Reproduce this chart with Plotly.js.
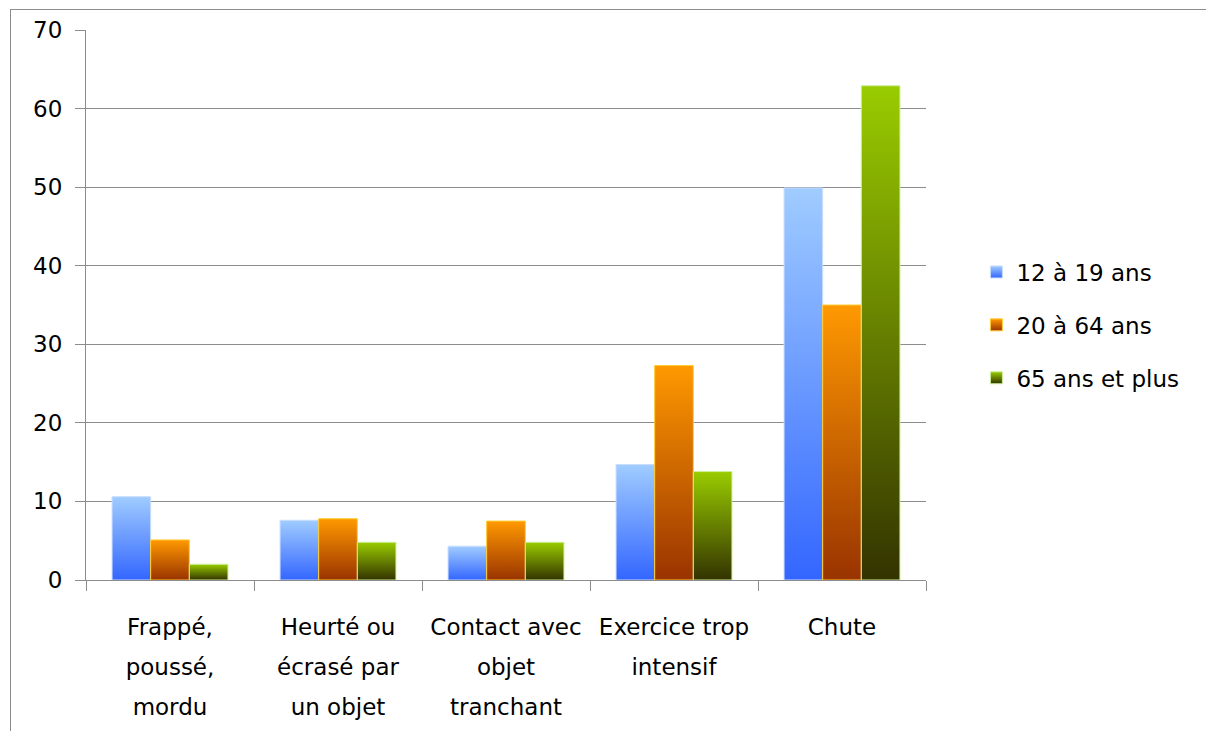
<!DOCTYPE html>
<html>
<head>
<meta charset="utf-8">
<script src="https://cdn.plot.ly/plotly-3.0.1.min.js"></script>
<style>
html,body{margin:0;padding:0;background:#fff;}
#wrap{position:relative;width:1206px;height:731px;overflow:hidden;}
#frame{position:absolute;left:10px;top:9px;width:1300px;height:800px;border-left:1px solid #8c8c8c;border-top:1px solid #8c8c8c;pointer-events:none;z-index:2;}
#chart{position:absolute;left:0;top:0;width:1206px;height:731px;}
</style>
</head>
<body>
<div id="wrap"><div id="chart"></div><div id="frame"></div></div>
<script>
const categories = ["Frappé,<br>poussé,<br>mordu", "Heurté ou<br>écrasé par<br>un objet", "Contact avec<br>objet<br>tranchant", "Exercice trop<br>intensif", "Chute"];
const seriesNames = ["12 à 19 ans", "20 à 64 ans", "65 ans et plus"];
const ages12to19 = [10.6, 7.6, 4.3, 14.7, 49.9];
const ages20to64 = [5.1, 7.8, 7.5, 27.3, 35.0];
const ages65plus = [2.0, 4.8, 4.8, 13.8, 62.9];
const yTicks = [0, 10, 20, 30, 40, 50, 60, 70];

const gradients = [
  {id: "g0", top: "#a0ccff", bottom: "#3366ff", edge: "#c8ddff", solid: "#6f99ff"},
  {id: "g1", top: "#ff9900", bottom: "#993300", edge: "#ffcc33", solid: "#cc6600"},
  {id: "g2", top: "#99cc00", bottom: "#333300", edge: "#ccee99", solid: "#668000"}
];
const seriesValues = [ages12to19, ages20to64, ages65plus];
const FONT = "DejaVu Sans, sans-serif";
const FS = 23;

const traces = seriesValues.map((vals, i) => ({
  type: "bar",
  name: seriesNames[i],
  x: categories,
  y: vals,
  legendgroup: "g" + i,
  marker: {color: gradients[i].solid, line: {color: gradients[i].edge, width: 1}},
  hoverinfo: "x+y+name"
}));

const layout = {
  width: 1206, height: 731,
  margin: {l: 86, r: 280, t: 30, b: 151},
  paper_bgcolor: "#ffffff", plot_bgcolor: "#ffffff",
  barmode: "group", bargap: 0.31, bargroupgap: 0,
  font: {family: FONT, size: FS, color: "#000"},
  xaxis: {
    type: "category", tickson: "boundaries", ticks: "outside", ticklen: 10, tickcolor: "#8c8c8c",
    showline: true, linecolor: "#8c8c8c", linewidth: 1, showgrid: false,
    tickfont: {family: FONT, size: FS, color: "#000"}, ticklabelstandoff: 26,
    fixedrange: true
  },
  yaxis: {
    range: [0, 70], tickvals: yTicks, ticktext: yTicks.map(String),
    ticks: "outside", ticklen: 10, tickcolor: "#8c8c8c",
    showline: true, linecolor: "#8c8c8c", linewidth: 1,
    showgrid: true, gridcolor: "#8c8c8c", gridwidth: 1, zeroline: false,
    tickfont: {family: FONT, size: FS, color: "#000"}, ticklabelstandoff: 8,
    fixedrange: true
  },
  legend: {
    x: 1.06, xanchor: "left", y: 0.4636, yanchor: "middle",
    font: {family: FONT, size: FS, color: "#000"},
    tracegroupgap: 20, traceorder: "grouped", bgcolor: "rgba(0,0,0,0)"
  },
  showlegend: true
};

function applyGradients(gd) {
  const svg = gd.querySelector("svg.main-svg");
  const ns = "http://www.w3.org/2000/svg";
  let defs = svg.querySelector("defs");
  if (!defs) { defs = document.createElementNS(ns, "defs"); svg.insertBefore(defs, svg.firstChild); }
  gradients.forEach(g => {
    if (svg.querySelector("#" + g.id)) return;
    const lg = document.createElementNS(ns, "linearGradient");
    lg.setAttribute("id", g.id);
    lg.setAttribute("x1", "0"); lg.setAttribute("y1", "0");
    lg.setAttribute("x2", "0"); lg.setAttribute("y2", "1");
    const s1 = document.createElementNS(ns, "stop");
    s1.setAttribute("offset", "0"); s1.setAttribute("stop-color", g.top);
    const s2 = document.createElementNS(ns, "stop");
    s2.setAttribute("offset", "1"); s2.setAttribute("stop-color", g.bottom);
    lg.appendChild(s1); lg.appendChild(s2); defs.appendChild(lg);
  });
  gd.querySelectorAll(".barlayer .trace.bars").forEach((t, i) => {
    t.querySelectorAll("path").forEach(p => { p.style.fill = "url(#" + gradients[i].id + ")"; });
  });
  gd.querySelectorAll(".legend .traces").forEach((t, i) => {
    t.querySelectorAll(".legendpoints path").forEach(p => { p.style.fill = "url(#" + gradients[i].id + ")"; });
  });
  // widen line spacing of multi-line category labels (scale Plotly's dy values)
  const k = 40 / (FS * 1.3);
  gd.querySelectorAll(".xtick text tspan.line").forEach(ts => {
    const dy = ts.getAttribute("dy");
    if (dy) {
      const v = parseFloat(dy);
      if (!isNaN(v) && v !== 0) ts.setAttribute("dy", (v * k).toFixed(3) + "em");
    }
  });
}

const gd = document.getElementById("chart");
Plotly.newPlot(gd, traces, layout, {displayModeBar: false}).then(() => applyGradients(gd));
</script>
</body>
</html>
